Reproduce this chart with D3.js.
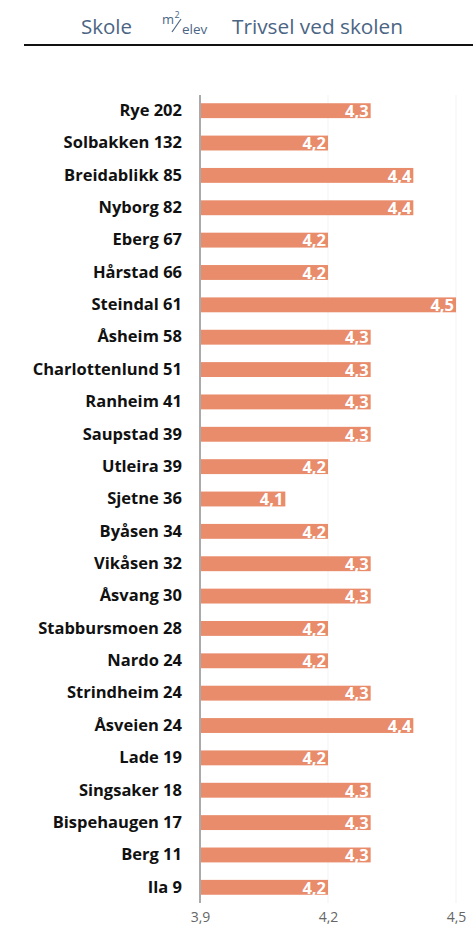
<!DOCTYPE html>
<html>
<head>
<meta charset="utf-8">
<script src="https://cdn.jsdelivr.net/npm/d3@7"></script>
<style>
  body { margin: 0; background: #fff; }
  svg { display: block; }
</style>
</head>
<body>
<svg id="chart" width="473" height="933"></svg>
<script>
// schools, with m2 per pupil in the name, and the wellbeing score
var schools = ["Rye 202", "Solbakken 132", "Breidablikk 85", "Nyborg 82", "Eberg 67", "Hårstad 66",
  "Steindal 61", "Åsheim 58", "Charlottenlund 51", "Ranheim 41", "Saupstad 39", "Utleira 39",
  "Sjetne 36", "Byåsen 34", "Vikåsen 32", "Åsvang 30", "Stabbursmoen 28", "Nardo 24",
  "Strindheim 24", "Åsveien 24", "Lade 19", "Singsaker 18", "Bispehaugen 17", "Berg 11", "Ila 9"];
var trivsel = [4.3, 4.2, 4.4, 4.4, 4.2, 4.2, 4.5, 4.3, 4.3, 4.3, 4.3, 4.2, 4.1, 4.2, 4.3, 4.3,
  4.2, 4.2, 4.3, 4.4, 4.2, 4.3, 4.3, 4.3, 4.2];
var ticks = [3.9, 4.2, 4.5];

var fmt = function(v){ return d3.format(".1f")(v).replace(".", ","); };

var svg = d3.select("#chart");
var font = "'Open Sans', Lato, sans-serif";
var headColour = "#4b6584";

// header
var head = svg.append("g").attr("font-family", font).attr("fill", headColour);
head.append("text").attr("x", 81).attr("y", 34).attr("font-size", 20.5).text("Skole");
var unit = head.append("text").attr("x", 162).attr("y", 24).attr("font-size", 13);
unit.append("tspan").text("m");
unit.append("tspan").attr("font-size", 9).attr("dy", -6).attr("dx", 0.5).text("2");
svg.append("line").attr("x1", 172).attr("y1", 32).attr("x2", 181).attr("y2", 19)
  .attr("stroke", headColour).attr("stroke-width", 1.2);
head.append("text").attr("x", 182).attr("y", 34).attr("font-size", 13.5).text("elev");
head.append("text").attr("x", 232).attr("y", 34).attr("font-size", 20.8).text("Trivsel ved skolen");
svg.append("line").attr("x1", 24).attr("x2", 473).attr("y1", 45).attr("y2", 45)
  .attr("stroke", "#111").attr("stroke-width", 2);

var x = d3.scaleLinear().domain([3.9, 4.5]).range([200, 456]);
var y = d3.scaleBand().domain(schools).range([94.5, 903.5]).paddingInner(0.54).paddingOuter(0.27);

// faint grid
svg.append("g").selectAll("line").data(ticks.slice(1)).join("line")
  .attr("x1", function(d){ return x(d); }).attr("x2", function(d){ return x(d); })
  .attr("y1", 95).attr("y2", 903).attr("stroke", "#f3f3f3").attr("stroke-width", 1);

svg.append("g").selectAll("rect").data(trivsel).join("rect")
  .attr("x", x(3.9))
  .attr("y", function(d, i){ return y(schools[i]); })
  .attr("width", function(d){ return x(d) - x(3.9); })
  .attr("height", y.bandwidth())
  .attr("fill", "#e98c6c");

svg.append("g").selectAll("text").data(trivsel).join("text")
  .attr("x", function(d){ return x(d) - 2; })
  .attr("y", function(d, i){ return y(schools[i]) + y.bandwidth() / 2; })
  .attr("dy", "0.38em")
  .attr("text-anchor", "end")
  .attr("font-family", font).attr("font-weight", "bold").attr("font-size", 16.5)
  .attr("fill", "#fff")
  .text(fmt);

// school labels
var yAxis = d3.axisLeft(y).tickSize(0).tickPadding(18);
var gy = svg.append("g").attr("transform", "translate(200,0)").call(yAxis);
gy.select(".domain").remove();
gy.selectAll("text").attr("font-family", font).attr("font-weight", "bold")
  .attr("font-size", 16.5).attr("fill", "#111");

svg.append("line").attr("x1", 200).attr("x2", 200).attr("y1", 95).attr("y2", 903)
  .attr("stroke", "#aaa").attr("stroke-width", 2);

// bottom ticks
var xAxis = d3.axisBottom(x).tickValues(ticks).tickSize(0).tickPadding(0).tickFormat(fmt);
var gx = svg.append("g").attr("transform", "translate(0,912)").call(xAxis);
gx.select(".domain").remove();
gx.selectAll("text").attr("font-family", font).attr("font-size", 14).attr("fill", "#666");
</script>
</body>
</html>
